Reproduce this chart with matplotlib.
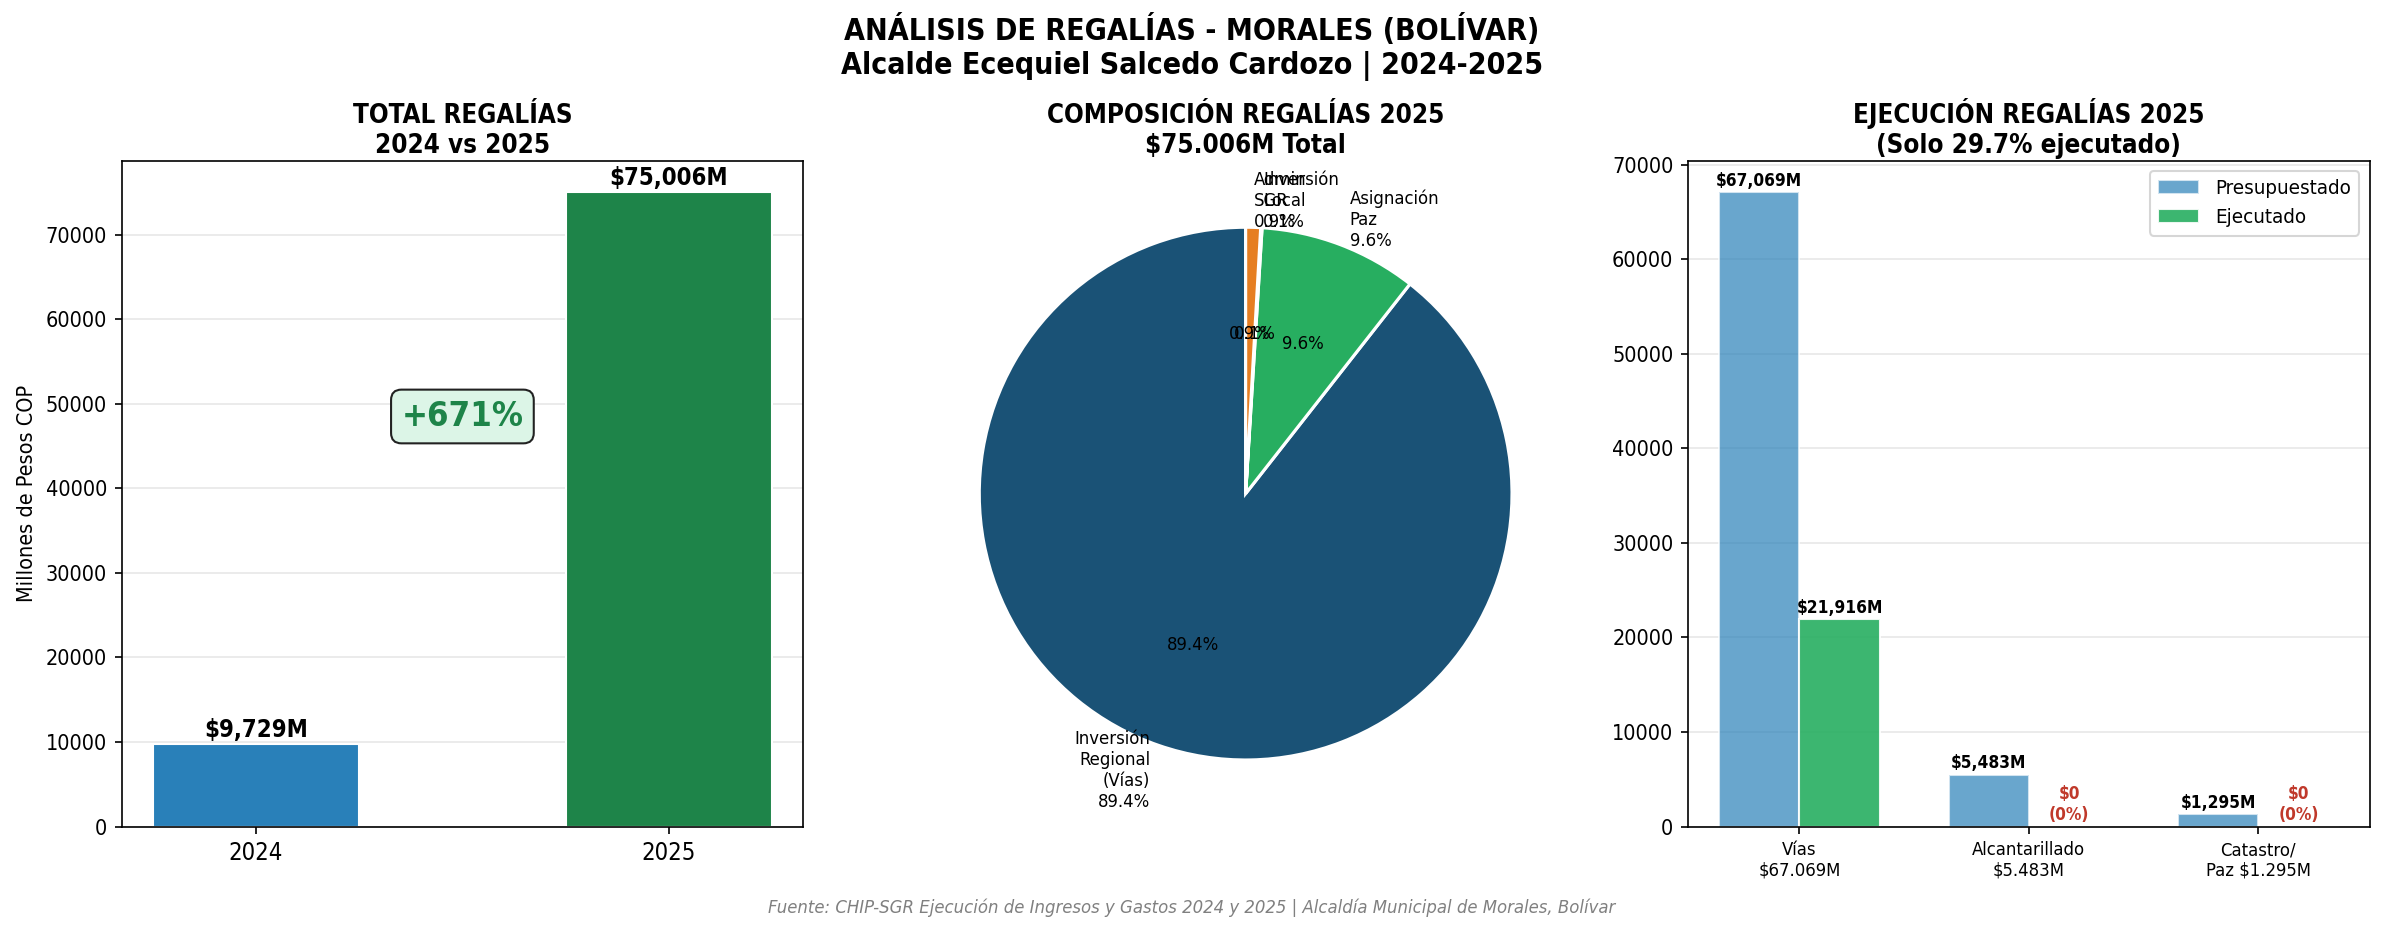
import numpy as np
import matplotlib
matplotlib.use('Agg')
import matplotlib.pyplot as plt

plt.rcParams['font.family'] = ['DejaVu Sans']
plt.rcParams['font.stretch'] = 'condensed'
plt.rcParams['axes.titlepad'] = 3.5

# datos
anios = ['2024', '2025']
total_regalias = [9729, 75006]

pie_labels = ['Inversión\nRegional\n(Vías)', 'Asignación\nPaz', 'Inversión\nLocal', 'Admin\nSGR']
pie_values = [67069, 7200, 62, 675]

categorias = ['Vías\n$67.069M', 'Alcantarillado\n$5.483M', 'Catastro/\nPaz $1.295M']
presupuestado = [67069, 5483, 1295]
ejecutado = [21916, 0, 0]

k = 1.035  # factor de fuente
fig, axes = plt.subplots(1, 3, figsize=(2384/150, 934/150), dpi=150)
plt.subplots_adjust(left=0.051, right=0.994, top=0.828, bottom=0.115, wspace=0.149)

fig.suptitle('ANÁLISIS DE REGALÍAS - MORALES (BOLÍVAR)\nAlcalde Ecequiel Salcedo Cardozo | 2024-2025',
             fontsize=14*k, fontweight='bold', y=0.985)

# panel 1
ax = axes[0]
bars = ax.bar(anios, total_regalias, color=['#2980b9', '#1e8449'], width=0.5, edgecolor='white')
for b, v in zip(bars, total_regalias):
    ax.text(b.get_x() + b.get_width()/2, v + 300, f'${v:,}M', ha='center', va='bottom',
            fontsize=11*k, fontweight='bold')
crec = (total_regalias[1] - total_regalias[0]) / total_regalias[0] * 100
ax.text(0.5, 48500, f'+{crec:.0f}%', ha='center', va='center', fontsize=16*k, fontweight='bold',
        color='#1e8449', bbox=dict(boxstyle='round,pad=0.3', facecolor='#dcf5e7', edgecolor='#222222'))
ax.set_ylabel('Millones de Pesos COP', fontsize=10*k)
ax.set_title('TOTAL REGALÍAS\n2024 vs 2025', fontsize=12*k, fontweight='bold')
ax.grid(axis='y', alpha=0.3)
ax.set_axisbelow(True)
ax.tick_params(axis='x', labelsize=11*k)
ax.tick_params(axis='y', labelsize=10*k)

# panel 2
ax = axes[1]
wedges, texts, autotexts = ax.pie(pie_values, labels=pie_labels, autopct='%1.1f%%', startangle=90,
                                  colors=['#1a5276', '#27ae60', '#8e44ad', '#e67e22'],
                                  wedgeprops=dict(edgecolor='white', linewidth=1.5),
                                  textprops=dict(fontsize=8.5*k))
for t, v in zip(texts, pie_values):
    t.set_text(t.get_text() + f'\n{v/sum(pie_values)*100:.1f}%')
ax.set_title(f'COMPOSICIÓN REGALÍAS 2025\n${sum(pie_values):,}M Total'.replace(',', '.'),
             fontsize=12*k, fontweight='bold')

# panel 3
ax = axes[2]
x = np.arange(len(categorias))
w = 0.35
b1 = ax.bar(x - w/2, presupuestado, w, label='Presupuestado', color='#2980b9', alpha=0.7, edgecolor='white')
b2 = ax.bar(x + w/2, ejecutado, w, label='Ejecutado', color='#27ae60', alpha=0.9, edgecolor='white')
for b, v in zip(b1, presupuestado):
    ax.text(b.get_x() + b.get_width()/2, v + 300, f'${v:,}M', ha='center', va='bottom',
            fontsize=8*k, fontweight='bold')
for b, v, p in zip(b2, ejecutado, presupuestado):
    if v > 0:
        ax.text(b.get_x() + b.get_width()/2, v + 300, f'${v:,}M', ha='center', va='bottom',
                fontsize=8*k, fontweight='bold')
    else:
        ax.text(b.get_x() + b.get_width()/2, 300, f'$0\n({v/p*100:.0f}%)', ha='center', va='bottom',
                fontsize=8*k, fontweight='bold', color='#c0392b')
ax.set_xticks(x)
ax.set_xticklabels(categorias, fontsize=8.5*k)
ax.tick_params(axis='y', labelsize=10*k)
pct = sum(ejecutado) / sum(presupuestado) * 100
ax.set_title(f'EJECUCIÓN REGALÍAS 2025\n(Solo {pct:.1f}% ejecutado)', fontsize=12*k, fontweight='bold')
ax.legend(loc='upper right', fontsize=9.5*k)
ax.grid(axis='y', alpha=0.3)
ax.set_axisbelow(True)

fig.text(0.5, 0.022, 'Fuente: CHIP-SGR Ejecución de Ingresos y Gastos 2024 y 2025 | Alcaldía Municipal de Morales, Bolívar',
         ha='center', fontsize=8.5*k, style='italic', color='gray')

plt.savefig('out.png', dpi=150)
